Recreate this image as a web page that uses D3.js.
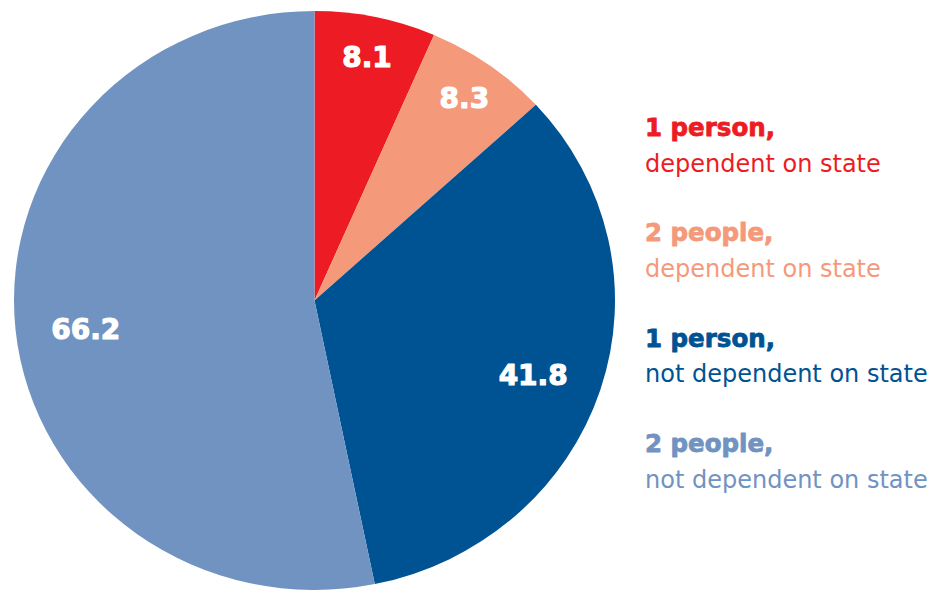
<!DOCTYPE html>
<html>
<head>
<meta charset="utf-8">
<script src="https://cdn.jsdelivr.net/npm/d3@7"></script>
<style>
  html, body { margin: 0; padding: 0; background: #fff; }
  svg { display: block; }
</style>
</head>
<body>
<svg id="chart" width="940" height="591"></svg>
<script>
// Households by size and dependence on state support
const categories = ["1 person", "2 people", "1 person", "2 people"];
const subtitles = ["dependent on state", "dependent on state", "not dependent on state", "not dependent on state"];
const values = [8.1, 8.3, 41.8, 66.2];
const colors = ["#ED1C24", "#F5997B", "#005392", "#7193C1"];

const svg = d3.select("#chart");
const cx = 314.5, cy = 300.5;
const ry = 289.5, rx = 300.5;

const pie = d3.pie().sort(null).value(d => d.value);
const data = values.map((v, i) => ({ value: v, color: colors[i] }));
const arcs = pie(data);

const arc = d3.arc().innerRadius(0).outerRadius(ry);

// the pie is drawn slightly wider than tall
const g = svg.append("g")
  .attr("transform", `translate(${cx},${cy}) scale(${rx / ry},1)`);

g.selectAll("path.slice")
  .data(arcs)
  .join("path")
  .attr("class", "slice")
  .attr("d", arc)
  .attr("fill", d => d.data.color);

// value labels: narrow slices get their label further out
const isNarrow = d => (d.endAngle - d.startAngle) < 0.5;
const labelPos = d => {
  const rr = ry * (isNarrow(d) ? 0.86 : 0.765);
  return d3.arc().innerRadius(rr).outerRadius(rr).centroid(d);
};

const valueSize = 28;
const lg = svg.append("g").attr("transform", `translate(${cx},${cy})`);
lg.selectAll("text")
  .data(arcs)
  .join("text")
  .attr("x", d => labelPos(d)[0] * rx / ry)
  .attr("y", d => labelPos(d)[1] + valueSize * 0.729 / 2 + (isNarrow(d) ? 0 : 6))
  .attr("text-anchor", "middle")
  .attr("font-family", "DejaVu Sans")
  .attr("font-weight", "bold")
  .attr("font-size", valueSize)
  .attr("fill", "#fff")
  .attr("stroke", "#fff")
  .attr("stroke-width", 1.1)
  .attr("stroke-linejoin", "round")
  .text(d => d.data.value.toFixed(1));

// legend
const legendY = d3.scaleLinear().domain([0, 3]).range([136, 452]);
const leg = svg.append("g").attr("transform", "translate(645,0)");
const items = leg.selectAll("g")
  .data(categories.map((c, i) => ({ c, s: subtitles[i], color: colors[i], i })))
  .join("g")
  .attr("transform", d => `translate(0,${legendY(d.i)})`);

items.append("text")
  .attr("font-family", "DejaVu Sans")
  .attr("font-weight", "bold")
  .attr("font-size", 24.5)
  .attr("fill", d => d.color)
  .attr("stroke", d => d.color)
  .attr("stroke-width", 0.8)
  .attr("stroke-linejoin", "round")
  .text(d => d.c + ",");

items.append("text")
  .attr("y", 35.5)
  .attr("font-family", "DejaVu Sans")
  .attr("font-size", 24)
  .attr("fill", d => d.color)
  .text(d => d.s);
</script>
</body>
</html>
